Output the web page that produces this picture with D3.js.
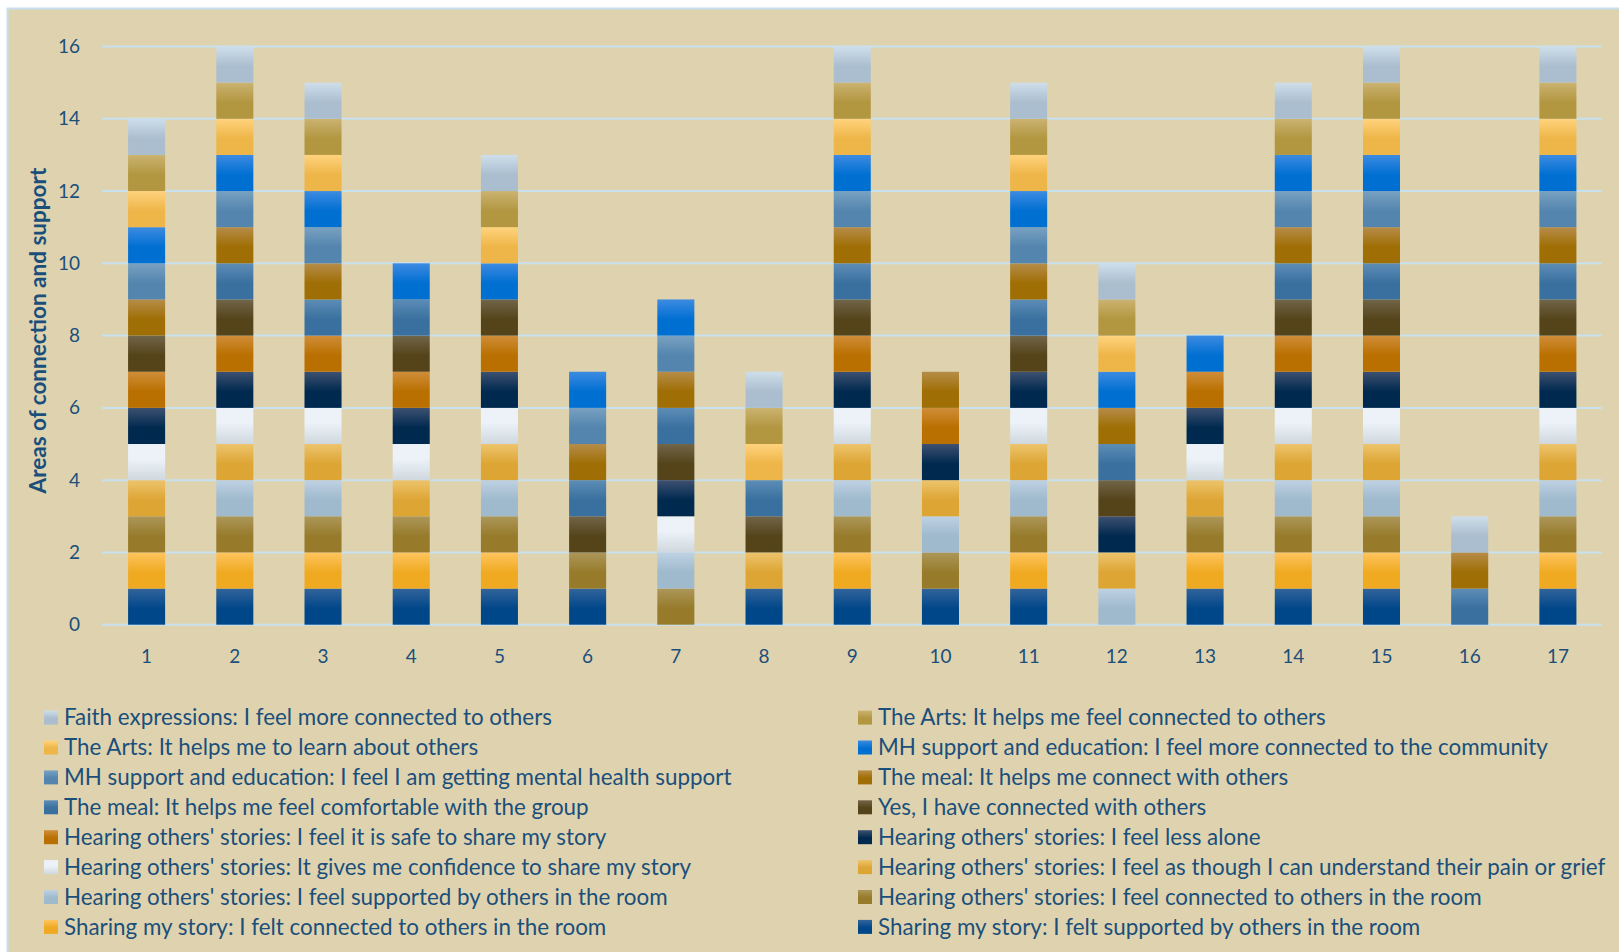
<!DOCTYPE html>
<html>
<head>
<meta charset="utf-8">
<script src="https://cdn.jsdelivr.net/npm/d3@7"></script>
<style>
  html, body { margin: 0; padding: 0; background: #ffffff; }
  svg { display: block; }
  text { font-family: Lato, "Open Sans", sans-serif; fill: #1b4f7b; }
</style>
</head>
<body>
<svg width="1619" height="952"></svg>
<script>

// respondents 1..17
const respondents = ['1','2','3','4','5','6','7','8','9','10','11','12','13','14','15','16','17'];

// series, bottom of the stack first
const seriesNames = [
  'Sharing my story: I felt supported by others in the room',
  'Sharing my story: I felt connected to others in the room',
  "Hearing others' stories: I feel connected to others in the room",
  "Hearing others' stories: I feel supported by others in the room",
  "Hearing others' stories: I feel as though I can understand their pain or grief",
  "Hearing others' stories: It gives me confidence to share my story",
  "Hearing others' stories: I feel less alone",
  "Hearing others' stories: I feel it is safe to share my story",
  'Yes, I have connected with others',
  'The meal: It helps me feel comfortable with the group',
  'The meal: It helps me connect with others',
  'MH support and education: I feel I am getting mental health support',
  'MH support and education: I feel more connected to the community',
  'The Arts: It helps me to learn about others',
  'The Arts: It helps me feel connected to others',
  'Faith expressions: I feel more connected to others'
];

const sharingSupported   = [1,1,1,1,1,1,0,1,1,1,1,0,1,1,1,0,1];
const sharingConnected   = [1,1,1,1,1,0,0,0,1,0,1,0,1,1,1,0,1];
const hearingConnected   = [1,1,1,1,1,1,1,0,1,1,1,0,1,1,1,0,1];
const hearingSupported   = [0,1,1,0,1,0,1,0,1,1,1,1,0,1,1,0,1];
const hearingPain        = [1,1,1,1,1,0,0,1,1,1,1,1,1,1,1,0,1];
const hearingConfidence  = [1,1,1,1,1,0,1,0,1,0,1,0,1,1,1,0,1];
const hearingLessAlone   = [1,1,1,1,1,0,1,0,1,1,1,1,1,1,1,0,1];
const hearingSafe        = [1,1,1,1,1,0,0,0,1,1,0,0,1,1,1,0,1];
const yesConnected       = [1,1,0,1,1,1,1,1,1,0,1,1,0,1,1,0,1];
const mealComfortable    = [0,1,1,1,0,1,1,1,1,0,1,1,0,1,1,1,1];
const mealConnect        = [1,1,1,0,0,1,1,0,1,1,1,1,0,1,1,1,1];
const mhSupport          = [1,1,1,0,0,1,1,0,1,0,1,0,0,1,1,0,1];
const mhCommunity        = [1,1,1,1,1,1,1,0,1,0,1,1,1,1,1,0,1];
const artsLearn          = [1,1,1,0,1,0,0,1,1,0,1,1,0,0,1,0,1];
const artsConnected      = [1,1,1,0,1,0,0,1,1,0,1,1,0,1,1,0,1];
const faithConnected     = [1,1,1,0,1,0,0,1,1,0,1,1,0,1,1,1,1];

const seriesValues = [
  sharingSupported, sharingConnected, hearingConnected, hearingSupported,
  hearingPain, hearingConfidence, hearingLessAlone, hearingSafe,
  yesConnected, mealComfortable, mealConnect, mhSupport,
  mhCommunity, artsLearn, artsConnected, faithConnected
];

const yTicks = [0, 2, 4, 6, 8, 10, 12, 14, 16];

// [top, bottom] of the vertical gradient of each series
const colors = [
  ['#33649a', '#00478a'],
  ['#ffc55e', '#efaa22'],
  ['#ac975a', '#977b2b'],
  ['#bed2e3', '#9fb9cd'],
  ['#edc46c', '#dda534'],
  ['#edf2f9', '#cfd8de'],
  ['#3d5171', '#00294f'],
  ['#d08d39', '#b97000'],
  ['#716549', '#55441a'],
  ['#5c8db6', '#3a709f'],
  ['#b68d49', '#9f6e04'],
  ['#79a1c1', '#5385ae'],
  ['#3d8be1', '#006fd2'],
  ['#ffd37d', '#eeb548'],
  ['#cbb371', '#b29640'],
  ['#cfdeea', '#aabecf']
];

const svg = d3.select('svg');
const defs = svg.append('defs');

colors.forEach((c, i) => {
  let g = defs.append('linearGradient')
    .attr('id', `grad${i}`)
    .attr('x1', 0).attr('y1', 0)
    .attr('x2', 0).attr('y2', 1);
  g.append('stop').attr('offset', '0%').attr('stop-color', c[0]);
  //the white one stays light longer
  g.append('stop').attr('offset', i === 5 ? '40%' : '55%').attr('stop-color', i === 5 ? c[0] : c[1]);
  g.append('stop').attr('offset', '100%').attr('stop-color', c[1]);
});

// chart area
svg.append('rect')
  .attr('x', 7.5).attr('y', 8.5)
  .attr('width', 1640).attr('height', 980)
  .attr('fill', '#dfd3af')
  .attr('stroke', '#c6e0f2')
  .attr('stroke-width', 2);

let table = respondents.map((r, j) => {
  let row = { respondent: r };
  seriesNames.forEach((s, i) => { row[s] = seriesValues[i][j]; });
  return row;
});

let stack = d3.stack().keys(seriesNames);
let layers = stack(table);

let x = d3.scaleBand()
  .domain(respondents)
  .range([102.5, 1602])
  .paddingInner(0.58)
  .paddingOuter(0.29);

let y = d3.scaleLinear()
  .domain([0, 16])
  .range([624.7, 46.5]);

// gridlines
svg.append('g')
  .selectAll('line')
  .data(yTicks)
  .enter().append('line')
  .attr('x1', 102).attr('x2', 1602)
  .attr('y1', (d) => y(d)).attr('y2', (d) => y(d))
  .attr('stroke', '#c7e1ef')
  .attr('stroke-width', 2);

// y axis
let yAxis = svg.append('g')
  .attr('transform', 'translate(80,0)')
  .call(d3.axisLeft(y).tickValues(yTicks).tickSize(0).tickPadding(0));
yAxis.select('.domain').remove();
yAxis.selectAll('text')
  .style('font-size', '19px')
  .style('fill', '#1b4f7b');

// x axis
let xAxis = svg.append('g')
  .attr('transform', 'translate(0,649)')
  .call(d3.axisBottom(x).tickSize(0).tickPadding(0));
xAxis.select('.domain').remove();
xAxis.selectAll('text')
  .style('font-size', '19px')
  .style('fill', '#1b4f7b');

// bars
let groups = svg.append('g')
  .selectAll('g')
  .data(layers)
  .enter().append('g')
  .attr('fill', (d, i) => `url(#grad${i})`);

groups.selectAll('rect')
  .data((d) => d.filter((p) => p[1] > p[0]))
  .enter().append('rect')
  .attr('x', (d) => x(d.data.respondent))
  .attr('y', (d) => y(d[1]))
  .attr('width', x.bandwidth())
  .attr('height', (d) => y(d[0]) - y(d[1]));

// y title
svg.append('text')
  .attr('transform', `translate(46,${(y(0) + y(16)) / 2 - 5}) rotate(-90)`)
  .attr('text-anchor', 'middle')
  .style('font-size', '22.5px')
  .style('font-weight', 'bold')
  .text('Areas of connection and support');

// legend, two columns, top of the stack first
let legendOrder = d3.range(seriesNames.length).reverse();
let legend = svg.append('g')
  .selectAll('g')
  .data(legendOrder)
  .enter().append('g')
  .attr('transform', (d, k) => {
    let col = k % 2;
    let row = Math.floor(k / 2);
    return `translate(${col === 0 ? 44 : 858},${717.6 + row * 29.9})`;
  });

legend.append('rect')
  .attr('x', 0).attr('y', -7)
  .attr('width', 14).attr('height', 14)
  .attr('fill', (d) => `url(#grad${d})`);

legend.append('text')
  .attr('x', 20)
  .attr('dy', '0.35em')
  .style('font-size', '22.4px')
  .text((d) => seriesNames[d]);

</script>
</body>
</html>
